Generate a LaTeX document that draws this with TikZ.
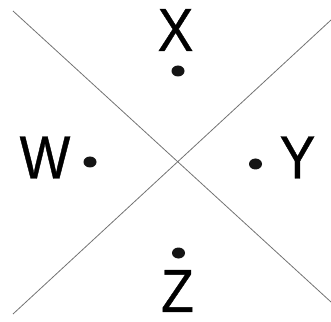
\documentclass[tikz,border=0pt]{standalone}
\usepackage{fontspec}
\setmainfont[FakeStretch=0.88,FakeBold=0.6]{Liberation Sans}
\usetikzlibrary{shapes.geometric}

\begin{document}
\begin{tikzpicture}[x=1pt,y=1pt,
    lbl/.style={font=\fontsize{61}{61}\selectfont, inner sep=0pt},
    pt/.style={ellipse, fill=black!92, minimum width=13pt, minimum height=11pt, inner sep=0pt},
    ray/.style={draw=black!55, line width=0.8pt}]
   \useasboundingbox (0,0) rectangle (331,321);
   % ends of the two crossing lines
   \coordinate (tl) at (13,310);
   \coordinate (br) at (331,19);
   \coordinate (bl) at (13,7);
   \coordinate (tr) at (331,301);
   \draw[ray] (tl) -- (br);
   \draw[ray] (bl) -- (tr);
   % letters and their dots
   \node[lbl] (X) at (175.5,291) {X};
   \node[lbl] (W) at (45,163.5) {W};
   \node[lbl] (Y) at (297.5,163.5) {Y};
   \node[lbl] (Z) at (177.5,30) {Z};
   \node[pt] (xdot) at (178,250) {};
   \node[pt] (wdot) at (90,159) {};
   \node[pt] (ydot) at (255.5,157) {};
   \node[pt] (zdot) at (178.5,68) {};
\end{tikzpicture}
\end{document}
